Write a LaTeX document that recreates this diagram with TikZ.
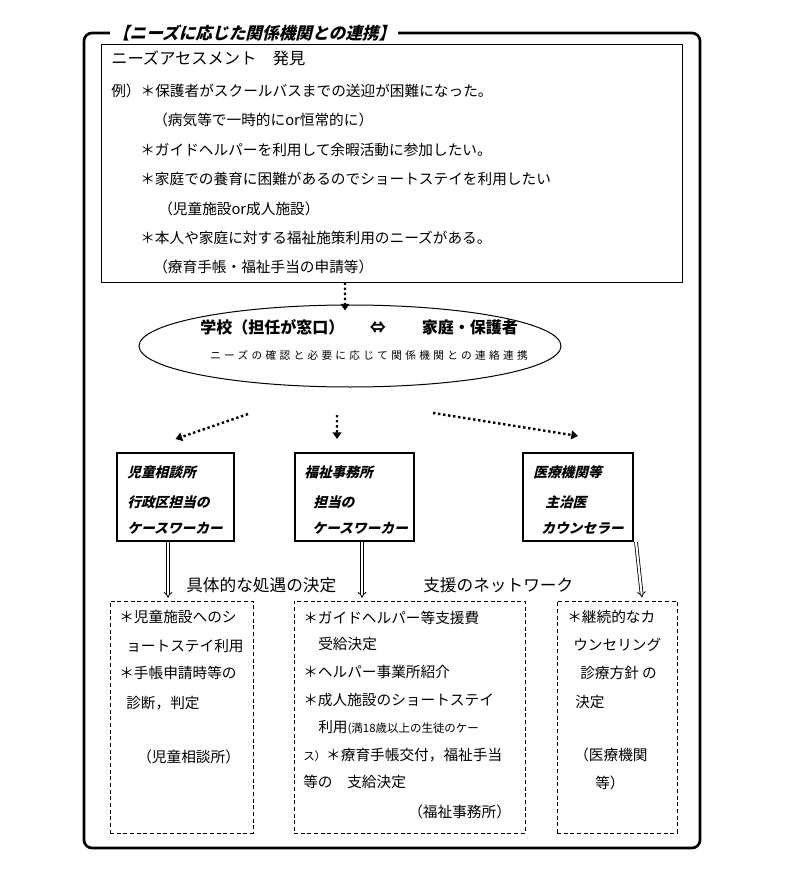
\documentclass[tikz,border=0pt]{standalone}
\usepackage{fontspec}
\setmainfont{Noto Sans CJK JP}
\newfontfamily\slantjp{Noto Sans CJK JP}[FakeSlant=0.25]
\newfontfamily\spacedjp{Noto Sans CJK JP}[LetterSpace=31]
\usetikzlibrary{arrows.meta,shapes.geometric}

\begin{document}
\begin{tikzpicture}
[x=0.75pt,y=-0.75pt,%
  txt/.style={anchor=west,inner sep=0pt,font=\fontsize{11}{13}\selectfont},%
  cwtxt/.style={anchor=west,inner sep=0pt,font=\slantjp\bfseries\fontsize{10.3}{12}\selectfont},%
  cwbox/.style={draw,line width=1.5pt,inner sep=0pt,minimum height=66pt},%
  resbox/.style={draw,line width=0.75pt,dash pattern=on 3pt off 2pt,inner sep=0pt,minimum height=174pt},%
  dotarr/.style={line width=1.8pt,dash pattern=on 1.8pt off 2pt,-{Triangle[length=5pt,width=6.5pt]}},%
  dbl/.style={double,double distance=1.6pt,line width=0.6pt,-{Implies}}]
\useasboundingbox (0,0) rectangle (794,880);

% outer frame and title
\node[draw,line width=2pt,rounded corners=6pt,minimum width=462pt,minimum height=611.25pt] (frame) at (392,440.5) {};
\node[anchor=west,fill=white,inner xsep=2pt,inner ysep=1pt,
  font=\slantjp\bfseries\fontsize{12.5}{14}\selectfont] (title) at (110,33) {【ニーズに応じた関係機関との連携】};

% needs assessment
\node[draw,line width=0.75pt,inner sep=0pt,minimum width=435.75pt,minimum height=177.75pt] (needbox) at (391.5,163.5) {};
\node[txt,font=\fontsize{12.2}{14}\selectfont] (needhead) at (111,58) {ニーズアセスメント　発見};
\foreach \ntext/\xx/\yy [count=\i] in {
  例）＊保護者がスクールバスまでの送迎が困難になった。/111/91,
  （病気等で一時的にor恒常的に）/153/120,
  ＊ガイドヘルパーを利用して余暇活動に参加したい。/140/150,
  ＊家庭での養育に困難があるのでショートステイを利用したい/140/179,
  （児童施設or成人施設）/158/209,
  ＊本人や家庭に対する福祉施策利用のニーズがある。/140/238,
  （療育手帳・福祉手当の申請等）/153/267}
  \node[txt] (need\i) at (\xx,\yy) {\ntext};

% school and family
\node[ellipse,draw,line width=0.75pt,inner sep=0pt,minimum width=316.5pt,minimum height=61.5pt] (ell) at (350,346) {};
\node[anchor=west,inner sep=0pt,font=\bfseries\fontsize{12}{14}\selectfont] (school) at (200,327)
  {学校（担任が窓口）\hspace{1.6em}⇔\hspace{2.25em}家庭・保護者};
\node[anchor=west,inner sep=0pt,font=\spacedjp\fontsize{8}{10}\selectfont] (liaison) at (210,355)
  {ニーズの確認と必要に応じて関係機関との連絡連携};

% case workers
\node[cwbox,minimum width=87.75pt] (cw1) at (175.5,497) {};
\node[cwbox,minimum width=89.25pt] (cw2) at (354.5,497) {};
\node[cwbox,minimum width=82.5pt] (cw3) at (578,497) {};
\foreach \ntext/\xx/\yy [count=\i] in {
  児童相談所/127/472, 行政区担当の/127/502, ケースワーカー/127/528,
  福祉事務所/304/472, 担当の/313/502, ケースワーカー/312/528,
  医療機関等/533/472, 主治医/545/502, カウンセラー/541/528}
  \node[cwtxt] (cwl\i) at (\xx,\yy) {\ntext};

% decisions
\node[txt,font=\fontsize{12.5}{14}\selectfont] (decide) at (186,585) {具体的な処遇の決定};
\node[txt,font=\fontsize{12.5}{14}\selectfont] (network) at (423,585) {支援のネットワーク};
\node[resbox,minimum width=107.25pt] (res1) at (181.5,717) {};
\node[resbox,minimum width=173.25pt] (res2) at (409.5,717) {};
\node[resbox,minimum width=90pt] (res3) at (617,717) {};
\foreach \ntext/\xx/\yy [count=\i] in {
  ＊児童施設へのシ/119/617, ョートステイ利用/126/646,
  ＊手帳申請時等の/119/673, 診断，判定/126/703,
  （児童相談所）/137/757}
  \node[txt] (resa\i) at (\xx,\yy) {\ntext};
\foreach \ntext/\xx/\yy [count=\i] in {
  ＊ガイドヘルパー等支援費/303/618, 受給決定/318/644,
  ＊ヘルパー事業所紹介/303/672, ＊成人施設のショートステイ/303/700,
  {利用{\fontsize{8.6}{10}\selectfont(満18歳以上の生徒のケー}}/318/727,
  {{\fontsize{8.6}{10}\selectfont ス）}＊療育手帳交付，福祉手当}/303/755,
  等の　支給決定/303/782, （福祉事務所）/408/812}
  \node[txt] (resb\i) at (\xx,\yy) {\ntext};
\foreach \ntext/\xx/\yy [count=\i] in {
  ＊継続的なカ/567/617, ウンセリング/573/645,
  診療方針~の/580/673, 決定/575/702,
  （医療機関/574/755, 等）/595/783}
  \node[txt] (resc\i) at (\xx,\yy) {\ntext};

% connectors
\coordinate (fromL) at (248,414);
\coordinate (fromM) at (337,415);
\coordinate (fromR) at (433,413);
\draw[dotarr] ([xshift=-34.9pt]needbox.south) -- ([xshift=-3.75pt,yshift=-4.5pt]ell.north);
\draw[dotarr] (fromL) -- ([yshift=9.75pt]cw1.north);
\draw[dotarr] (fromM) -- ([xshift=-13.1pt,yshift=9.75pt]cw2.north);
\draw[dotarr] (fromR) -- ([yshift=12pt]cw3.north);
\coordinate (dn1) at ([xshift=-5.6pt]cw1.south);
\coordinate (dn2) at ([xshift=5.6pt]cw2.south);
\draw[dbl,shorten >=2pt] (dn1) -- (dn1 |- res1.north);
\draw[dbl,shorten >=2pt] (dn2) -- (dn2 |- res2.north);
\draw[dbl] ([xshift=1.5pt]cw3.south east) -- ([xshift=18.75pt,yshift=2.25pt]res3.north);
\end{tikzpicture}
\end{document}
